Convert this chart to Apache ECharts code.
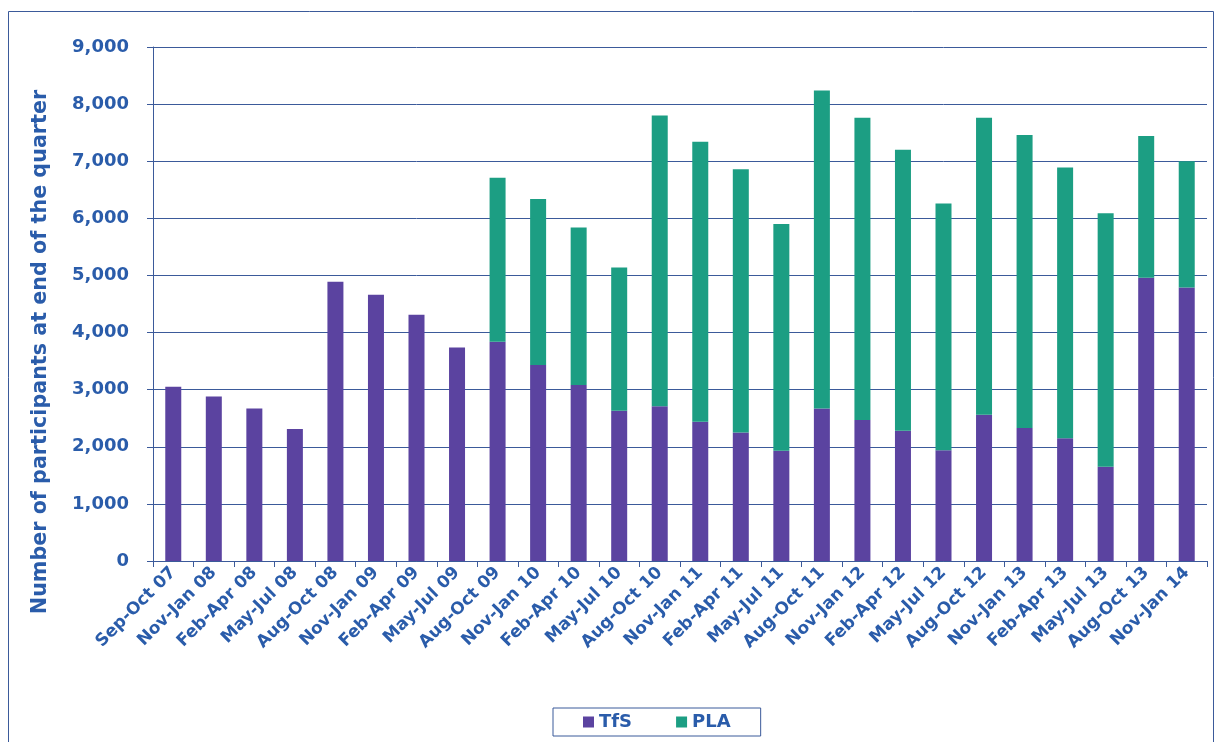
<!DOCTYPE html>
<html><head><meta charset="utf-8">
<script src="https://cdn.jsdelivr.net/npm/echarts@6/dist/echarts.min.js"></script>
<style>html,body{margin:0;padding:0;background:#fff}#c{width:1219px;height:742px}</style>
</head><body><div id="c"></div>
<script>
const categories = ["Sep-Oct 07","Nov-Jan 08","Feb-Apr 08","May-Jul 08","Aug-Oct 08","Nov-Jan 09","Feb-Apr 09","May-Jul 09","Aug-Oct 09","Nov-Jan 10","Feb-Apr 10","May-Jul 10","Aug-Oct 10","Nov-Jan 11","Feb-Apr 11","May-Jul 11","Aug-Oct 11","Nov-Jan 12","Feb-Apr 12","May-Jul 12","Aug-Oct 12","Nov-Jan 13","Feb-Apr 13","May-Jul 13","Aug-Oct 13","Nov-Jan 14"];
const tfs = [3050,2880,2670,2310,4890,4660,4310,3740,3840,3430,3080,2630,2710,2440,2250,1930,2670,2470,2280,1940,2560,2330,2150,1650,4960,4790];
const pla = [0,0,0,0,0,0,0,0,2870,2910,2760,2510,5090,4900,4610,3970,5570,5290,4920,4320,5200,5130,4740,4440,2480,2210];
const yTicks = [0,1000,2000,3000,4000,5000,6000,7000,8000,9000];

const blue = '#2A5CAA';
const font = 'DejaVu Sans';
const chart = echarts.init(document.getElementById('c'));
chart.setOption({
  animation:false,
  graphic:[{type:'rect',shape:{x:8.5,y:11.5,width:1205,height:740},style:{fill:'none',stroke:'#3B5A9A',lineWidth:1},silent:true}],
  legend:{bottom:6,left:553,data:['TfS','PLA'],itemWidth:11,itemHeight:11,itemGap:44,icon:'rect',
    borderColor:'#3B5A9A',borderWidth:1,padding:[5,30,5,30],
    textStyle:{color:blue,fontSize:18,fontWeight:'bold',fontFamily:font}},
  grid:{left:153,right:12,top:47,bottom:181},
  xAxis:{type:'category',data:categories,
    axisLine:{lineStyle:{color:'#3B5A9A',width:1}},
    axisTick:{show:true,length:6,lineStyle:{color:'#3B5A9A'}},
    axisLabel:{rotate:45,color:blue,fontSize:17,fontWeight:'bold',fontFamily:font,interval:0,margin:9}},
  yAxis:{type:'value',min:yTicks[0],max:yTicks[yTicks.length-1],interval:1000,
    name:'Number of participants at end of the quarter',nameLocation:'middle',nameGap:102,nameRotate:90,
    nameTextStyle:{color:blue,fontSize:20.7,fontWeight:'bold',fontFamily:font,padding:[0,96,0,0]},
    axisLine:{show:true,lineStyle:{color:'#3B5A9A',width:1}},
    axisTick:{show:true,length:6,lineStyle:{color:'#3B5A9A'}},
    splitLine:{lineStyle:{color:'#3B5A9A',width:1}},
    axisLabel:{color:blue,fontSize:18,fontWeight:'bold',fontFamily:font,margin:24,
      formatter:v=>v.toLocaleString('en-US')}},
  series:[
    {name:'TfS',type:'bar',stack:'t',data:tfs,barWidth:16,itemStyle:{color:'#5B43A0'}},
    {name:'PLA',type:'bar',stack:'t',data:pla,barWidth:16,itemStyle:{color:'#1C9E83'}}
  ]
});
</script></body></html>
